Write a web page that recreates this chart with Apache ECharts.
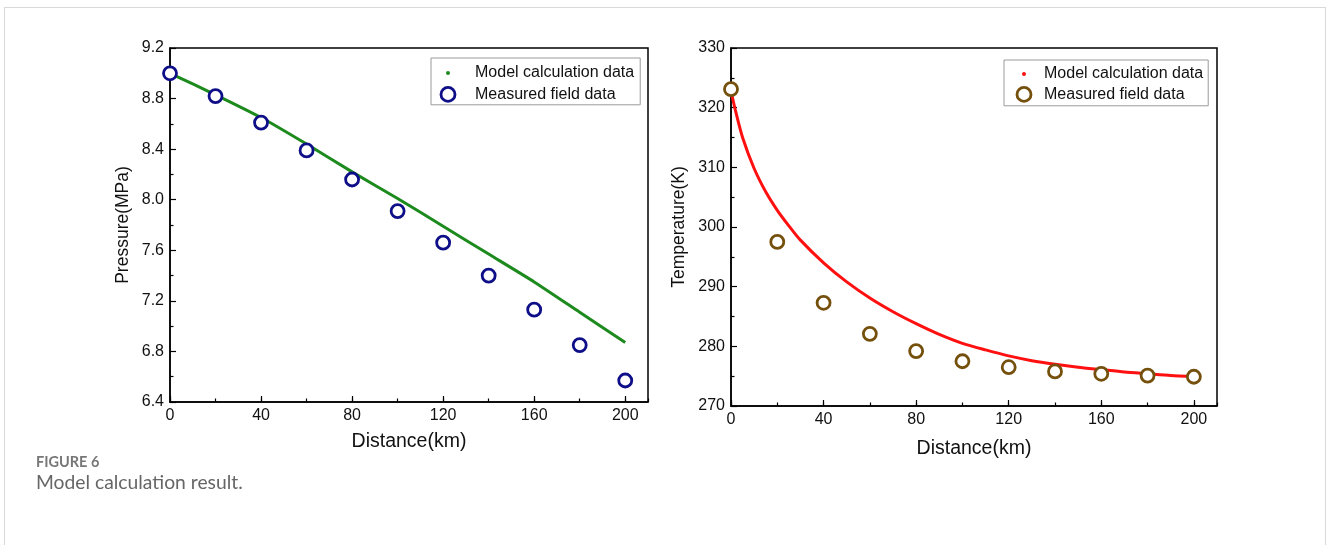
<!DOCTYPE html>
<html>
<head>
<meta charset="utf-8">
<script src="https://cdn.jsdelivr.net/npm/echarts@6/dist/echarts.min.js"></script>
<style>
  html, body { margin: 0; padding: 0; background: #fff; }
  .frame {
    position: absolute; left: 4px; top: 7px; width: 1322px; height: 560px;
    border: 1px solid #d9d9d9; box-sizing: border-box;
  }
  #chart { position: absolute; left: 0; top: 0; width: 1328px; height: 545px; }
</style>
</head>
<body>
<div class="frame"></div>
<div id="chart"></div>
<script>
// 距离 (km)
var distance = [0, 20, 40, 60, 80, 100, 120, 140, 160, 180, 200];
// 压力 (MPa)
var pressureModel = [9.0, 8.83, 8.65, 8.44, 8.22, 8.01, 7.79, 7.57, 7.35, 7.11, 6.87];
var pressureMeasured = [9.0, 8.82, 8.61, 8.39, 8.16, 7.91, 7.66, 7.40, 7.13, 6.85, 6.57];
// 温度 (K)
var tempModelDistance = [0, 2, 5, 10, 15, 20, 25, 30, 40, 50, 60, 70, 80, 90, 100, 110, 120, 130, 140, 150, 160, 170, 180, 190, 200];
var tempModel = [322.8, 319.4, 315.0, 309.8, 305.9, 302.8, 300.2, 297.8, 294.0, 290.8, 288.1, 285.8, 283.8, 282.0, 280.5, 279.4, 278.4, 277.6, 277.0, 276.5, 276.1, 275.7, 275.4, 275.1, 274.9];
var tempMeasured = [323.1, 297.5, 287.3, 282.1, 279.2, 277.5, 276.5, 275.8, 275.4, 275.1, 274.9];

var seriesNames = ["Model calculation data", "Measured field data"];

function pairs(xs, ys) {
  return xs.map(function (x, i) { return [x, ys[i]]; });
}

var font = "Liberation Sans, Arial, sans-serif";
var labelStyle = { color: "#111", fontSize: 16, fontFamily: font, margin: 6 };
var xNameStyle = { color: "#111", fontSize: 19.5, fontFamily: font };
var yNameStyle = { color: "#111", fontSize: 17.5, fontFamily: font };

// 主刻度 x 轴 + 次刻度 x 轴
function xAxes(gridIndex, nameGap) {
  return [
    {
      gridIndex: gridIndex,
      type: "value",
      min: 0,
      max: 210,
      interval: 40,
      name: "Distance(km)",
      nameLocation: "middle",
      nameGap: nameGap,
      nameTextStyle: xNameStyle,
      axisLine: { show: true, lineStyle: { color: "#000", width: 1.5 } },
      axisTick: { show: true, inside: true, length: 6, lineStyle: { color: "#000", width: 1.2 } },
      axisLabel: Object.assign({ showMaxLabel: false }, labelStyle),
      splitLine: { show: false },
    },
    {
      gridIndex: gridIndex,
      type: "value",
      position: "bottom",
      min: 0,
      max: 210,
      interval: 20,
      axisLine: { show: false },
      axisTick: { show: true, inside: true, length: 3.5, lineStyle: { color: "#000", width: 1.2 } },
      axisLabel: { show: false },
      splitLine: { show: false },
    },
  ];
}

function yAxis(gridIndex, name, min, max, interval, digits, nameGap) {
  return {
    gridIndex: gridIndex,
    type: "value",
    min: min,
    max: max,
    interval: interval,
    name: name,
    nameLocation: "middle",
    nameGap: nameGap,
    nameTextStyle: yNameStyle,
    axisLine: { show: true, lineStyle: { color: "#000", width: 1.5 } },
    axisTick: { show: true, inside: true, length: 6, lineStyle: { color: "#000", width: 1.2 } },
    minorTick: { show: true, splitNumber: 2, length: 3.5, lineStyle: { color: "#000", width: 1.2 } },
    axisLabel: Object.assign({
      formatter: function (v) { return v.toFixed(digits); },
    }, labelStyle),
    splitLine: { show: false },
  };
}

function legend(left, top, lineColor, markColor, padding, gap, textPad) {
  return {
    orient: "vertical",
    left: left,
    top: top,
    padding: padding,
    itemGap: gap,
    itemWidth: 14,
    itemHeight: 14,
    borderColor: "#9a9a9a",
    borderWidth: 1,
    selectedMode: false,
    textStyle: { color: "#111", fontSize: 16, fontFamily: font, padding: [0, 0, 0, textPad] },
    data: [
      {
        name: seriesNames[0],
        icon: "circle",
        itemStyle: { color: lineColor, borderColor: "#fff", borderWidth: 10 },
      },
      {
        name: seriesNames[1],
        icon: "circle",
        itemStyle: { color: "#fff", borderColor: markColor, borderWidth: 2.8, opacity: 1 },
      },
    ],
  };
}

var green = "#1d8a1d", navy = "#0e0e88";
var red = "#ff1010", brown = "#74500c";

var option = {
  animation: false,
  title: [
    {
      text: "FIGURE 6",
      left: 36,
      top: 455,
      padding: 0,
      textStyle: { color: "#777", fontSize: 14.5, fontWeight: 700, fontFamily: "Lato, Open Sans, sans-serif" },
    },
    {
      text: "Model calculation result.",
      left: 36,
      top: 473,
      padding: 0,
      textStyle: { color: "#666", fontSize: 19.3, fontWeight: "normal", fontFamily: "Lato, Open Sans, sans-serif" },
    },
  ],
  grid: [
    { left: 170, top: 48, width: 478, height: 354, show: true, borderColor: "#000", borderWidth: 1.5, backgroundColor: "transparent" },
    { left: 731, top: 48, width: 486, height: 358, show: true, borderColor: "#000", borderWidth: 1.5, backgroundColor: "transparent" },
  ],
  legend: [
    legend(431, 58, green, navy, [3, 6, 2, 5], 1, 15),
    legend(1004, 60, red, brown, [2, 5, 3, 8], 0, 8),
  ],
  xAxis: xAxes(0, 30).concat(xAxes(1, 33)),
  yAxis: [
    yAxis(0, "Pressure(MPa)", 6.4, 9.2, 0.4, 1, 38),
    yAxis(1, "Temperature(K)", 270, 330, 10, 0, 43),
  ],
  series: [
    {
      name: seriesNames[0],
      type: "line",
      xAxisIndex: 0,
      yAxisIndex: 0,
      smooth: 0.2,
      showSymbol: false,
      lineStyle: { color: green, width: 3 },
      itemStyle: { color: green },
      data: pairs(distance, pressureModel),
      z: 2,
    },
    {
      name: seriesNames[1],
      type: "scatter",
      xAxisIndex: 0,
      yAxisIndex: 0,
      symbol: "circle",
      symbolSize: 13,
      itemStyle: { color: "#fff", borderColor: navy, borderWidth: 2.8, opacity: 1 },
      data: pairs(distance, pressureMeasured),
      z: 3,
    },
    {
      name: seriesNames[0],
      type: "line",
      xAxisIndex: 2,
      yAxisIndex: 1,
      smooth: 0.25,
      showSymbol: false,
      lineStyle: { color: red, width: 3 },
      itemStyle: { color: red },
      data: pairs(tempModelDistance, tempModel),
      z: 2,
    },
    {
      name: seriesNames[1],
      type: "scatter",
      xAxisIndex: 2,
      yAxisIndex: 1,
      symbol: "circle",
      symbolSize: 13,
      itemStyle: { color: "#fff", borderColor: brown, borderWidth: 2.8, opacity: 1 },
      data: pairs(distance, tempMeasured),
      z: 3,
    },
  ],
};

var myChart = echarts.init(document.getElementById("chart"));
myChart.setOption(option);
</script>
</body>
</html>
